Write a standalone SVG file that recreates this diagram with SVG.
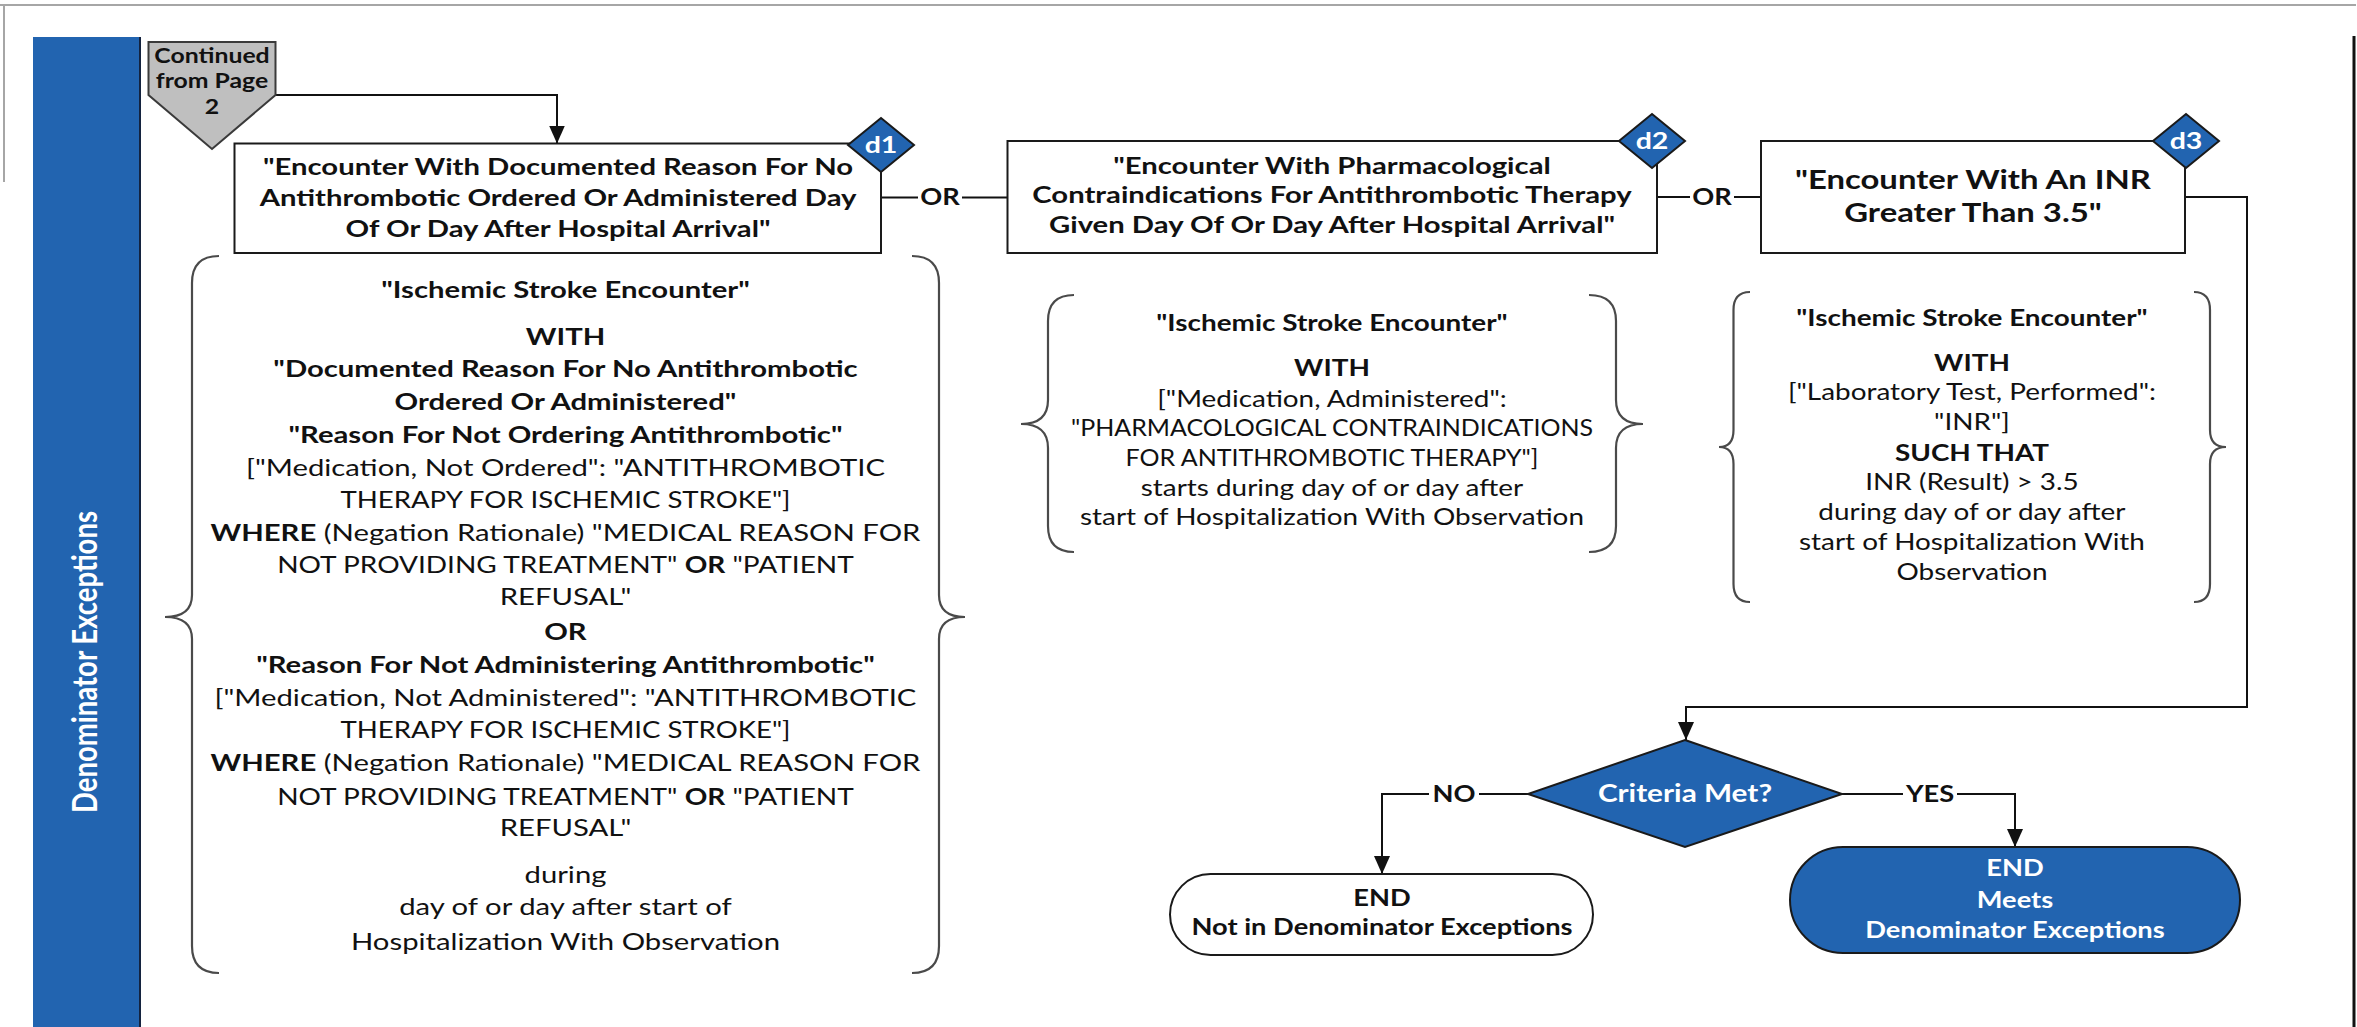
<svg xmlns="http://www.w3.org/2000/svg" width="2357" height="1027" viewBox="0 0 2357 1027">
  <defs>
    <style>
      text { font-family: Lato, 'Liberation Sans', sans-serif; text-anchor: middle; fill: #111; }
      text:not(.rot) { transform-box: fill-box; transform-origin: center; transform: scaleX(1.24); }
      .b { font-weight: 700; }
      .w { fill: #fff; }
      .box { fill: #fff; stroke: #1a1a1a; stroke-width: 2; }
      .tag { fill: #2264b0; stroke: #1a1a1a; stroke-width: 2; }
      .brace { fill: none; stroke: #4a4a4a; stroke-width: 2.2; }
      .wire { fill: none; stroke: #111; stroke-width: 2; }
      .arrow { marker-end: url(#ah); }
      .f24 { font-size: 23.6px; }
      .f22 { font-size: 22.5px; }
    </style>
    <marker id="ah" viewBox="0 0 18 16" refX="18" refY="8" markerWidth="18" markerHeight="16" orient="auto" markerUnits="userSpaceOnUse">
      <path d="M0,0 L18,8 L0,16 Z" fill="#111"/>
    </marker>
  </defs>

  <rect width="2357" height="1027" fill="#fff"/>

  <!-- page frame -->
  <g id="frame">
    <path d="M0,5 H2356 M4,5 V182" fill="none" stroke="#a6a6a6" stroke-width="2"/>
    <path d="M2354,36 V1027" fill="none" stroke="#111" stroke-width="3"/>
  </g>

  <!-- swim lane label -->
  <g id="lane">
    <rect x="33" y="37" width="106" height="990" fill="#2264b0"/>
    <path d="M140,37 V1027" stroke="#14233f" stroke-width="2"/>
    <text class="rot b w" font-size="27.5" transform="translate(97,662) scale(1.24,1) rotate(-90)" x="0" y="0">Denominator Exceptions</text>
  </g>

  <!-- connectors -->
  <g id="connectors">
    <path class="wire arrow" d="M275.5,95 H557 V143.5"/>
    <path class="wire" d="M881,197.5 H918"/>
    <path class="wire" d="M962,197.5 H1007.5" stroke="#7f7f7f"/>
    <path class="wire" d="M1657,197 H1690"/>
    <path class="wire" d="M1734,197 H1761"/>
    <path class="wire arrow" d="M2185,197 H2247 V707 H1686 V740"/>
    <path class="wire" d="M1528,794 H1479"/>
    <path class="wire arrow" d="M1429,794 H1382 V874"/>
    <path class="wire" d="M1842,794 H1903"/>
    <path class="wire arrow" d="M1957,794 H2015 V847"/>
    <text class="b" font-size="22" x="940" y="205.5">OR</text>
    <text class="b" font-size="22" x="1712" y="205">OR</text>
    <text class="b" font-size="22" x="1454" y="802">NO</text>
    <text class="b" font-size="22" x="1930" y="802">YES</text>
  </g>

  <!-- off-page connector -->
  <g id="continued">
    <polygon points="148.5,42 275.5,42 275.5,95 212,149 148.5,95" fill="#bfbfbf" stroke="#3a3a3a" stroke-width="2"/>
    <text class="b" font-size="20" x="212" y="63">Continued</text>
    <text class="b" font-size="20" x="212" y="88">from Page</text>
    <text class="b" font-size="20" x="212" y="114">2</text>
  </g>

  <!-- d1 -->
  <g id="d1">
    <rect class="box" x="234.5" y="143.5" width="646.5" height="109.5"/>
    <g class="f24">
      <text class="b" x="558" y="175">"Encounter With Documented Reason For No</text>
      <text class="b" x="558" y="206">Antithrombotic Ordered Or Administered Day</text>
      <text class="b" x="558" y="237">Of Or Day After Hospital Arrival"</text>
    </g>
    <polygon class="tag" points="881,118 914,145 881,172 848,145"/>
    <text class="b w" font-size="23" x="881" y="153">d1</text>
  </g>

  <!-- d2 -->
  <g id="d2">
    <rect class="box" x="1007.5" y="141" width="649.5" height="112"/>
    <g class="f24">
      <text class="b" x="1332" y="174">"Encounter With Pharmacological</text>
      <text class="b" x="1332" y="203.5">Contraindications For Antithrombotic Therapy</text>
      <text class="b" x="1332" y="233">Given Day Of Or Day After Hospital Arrival"</text>
    </g>
    <polygon class="tag" points="1652,114 1685,141 1652,168 1619,141"/>
    <text class="b w" font-size="23" x="1652" y="149">d2</text>
  </g>

  <!-- d3 -->
  <g id="d3">
    <rect class="box" x="1761" y="141" width="424" height="112"/>
    <text class="b" font-size="26.5" x="1973" y="189">"Encounter With An INR</text>
    <text class="b" font-size="26.5" x="1973" y="222.5">Greater Than 3.5"</text>
    <polygon class="tag" points="2186,114 2219,141 2186,168 2153,141"/>
    <text class="b w" font-size="23" x="2186" y="149">d3</text>
  </g>

  <!-- d1 criteria -->
  <g id="d1-criteria" class="f24">
    <path class="brace" d="M219,256 Q192,256 192,283 V595 Q192,617 165,617 Q192,617 192,639 V946 Q192,973 219,973"/>
    <path class="brace" d="M912,256 Q939,256 939,283 V595 Q939,617 965,617 Q939,617 939,639 V946 Q939,973 912,973"/>
    <text class="b" x="565.5" y="298">"Ischemic Stroke Encounter"</text>
    <text class="b" x="565.5" y="345">WITH</text>
    <text class="b" x="565.5" y="377">"Documented Reason For No Antithrombotic</text>
    <text class="b" x="565.5" y="410">Ordered Or Administered"</text>
    <text class="b" x="565.5" y="443">"Reason For Not Ordering Antithrombotic"</text>
    <text x="565.5" y="476.5">["Medication, Not Ordered": "ANTITHROMBOTIC</text>
    <text x="565.5" y="508.5" textLength="363" lengthAdjust="spacingAndGlyphs">THERAPY FOR ISCHEMIC STROKE"]</text>
    <text x="565.5" y="541.5"><tspan class="b">WHERE</tspan> (Negation Rationale) "MEDICAL REASON FOR</text>
    <text x="565.5" y="573.5" textLength="465" lengthAdjust="spacingAndGlyphs">NOT PROVIDING TREATMENT" <tspan class="b">OR</tspan> "PATIENT</text>
    <text x="565.5" y="605">REFUSAL"</text>
    <text class="b" x="565.5" y="640">OR</text>
    <text class="b" x="565.5" y="673">"Reason For Not Administering Antithrombotic"</text>
    <text x="565.5" y="706.5">["Medication, Not Administered": "ANTITHROMBOTIC</text>
    <text x="565.5" y="738" textLength="363" lengthAdjust="spacingAndGlyphs">THERAPY FOR ISCHEMIC STROKE"]</text>
    <text x="565.5" y="771.5"><tspan class="b">WHERE</tspan> (Negation Rationale) "MEDICAL REASON FOR</text>
    <text x="565.5" y="805" textLength="465" lengthAdjust="spacingAndGlyphs">NOT PROVIDING TREATMENT" <tspan class="b">OR</tspan> "PATIENT</text>
    <text x="565.5" y="836.5">REFUSAL"</text>
    <text x="565.5" y="883">during</text>
    <text x="565.5" y="915">day of or day after start of</text>
    <text x="565.5" y="950">Hospitalization With Observation</text>
  </g>

  <!-- d2 criteria -->
  <g id="d2-criteria" class="f22">
    <path class="brace" d="M1074,295 Q1048,295 1048,321 V400 Q1048,424 1021,424 Q1048,424 1048,448 V526 Q1048,552 1074,552"/>
    <path class="brace" d="M1589,295 Q1616,295 1616,321 V400 Q1616,424 1643,424 Q1616,424 1616,448 V526 Q1616,552 1589,552"/>
    <text class="b" x="1332" y="331.5">"Ischemic Stroke Encounter"</text>
    <text class="b" x="1332" y="376.5">WITH</text>
    <text x="1332" y="407">["Medication, Administered":</text>
    <text x="1332" y="436.5" textLength="421" lengthAdjust="spacingAndGlyphs">"PHARMACOLOGICAL CONTRAINDICATIONS</text>
    <text x="1332" y="466.5" textLength="333" lengthAdjust="spacingAndGlyphs">FOR ANTITHROMBOTIC THERAPY"]</text>
    <text x="1332" y="496.5">starts during day of or day after</text>
    <text x="1332" y="525">start of Hospitalization With Observation</text>
  </g>

  <!-- d3 criteria -->
  <g id="d3-criteria" class="f22">
    <path class="brace" d="M1750,292 Q1733.5,292 1733.5,310 V430 Q1733.5,447 1719,447 Q1733.5,447 1733.5,464 V584 Q1733.5,602 1750,602"/>
    <path class="brace" d="M2194,292 Q2210,292 2210,310 V430 Q2210,447 2226,447 Q2210,447 2210,464 V584 Q2210,602 2194,602"/>
    <text class="b" x="1972" y="326.5">"Ischemic Stroke Encounter"</text>
    <text class="b" x="1972" y="371.5">WITH</text>
    <text x="1972" y="400">["Laboratory Test, Performed":</text>
    <text x="1972" y="430">"INR"]</text>
    <text class="b" x="1972" y="461.5">SUCH THAT</text>
    <text x="1972" y="490">INR (Result) &gt; 3.5</text>
    <text x="1972" y="520">during day of or day after</text>
    <text x="1972" y="550">start of Hospitalization With</text>
    <text x="1972" y="580">Observation</text>
  </g>

  <!-- decision -->
  <g id="criteria-met">
    <polygon points="1685,740 1842,794 1685,847 1528,794" fill="#2264b0" stroke="#1a1a1a" stroke-width="2"/>
    <text class="b w" font-size="24" x="1685" y="802.5">Criteria Met?</text>
  </g>

  <!-- outcomes -->
  <g id="end-not-in">
    <rect x="1170" y="874" width="423" height="81" rx="40.5" fill="#fff" stroke="#1a1a1a" stroke-width="2"/>
    <text class="b" font-size="22" x="1382" y="906.5">END</text>
    <text class="b" font-size="22" x="1382" y="935">Not in Denominator Exceptions</text>
  </g>

  <g id="end-meets">
    <rect x="1790" y="847" width="450" height="106" rx="53" fill="#2264b0" stroke="#1a1a1a" stroke-width="2"/>
    <text class="b w" font-size="22" x="2015" y="876.5">END</text>
    <text class="b w" font-size="22" x="2015" y="908">Meets</text>
    <text class="b w" font-size="22" x="2015" y="938">Denominator Exceptions</text>
  </g>
</svg>
